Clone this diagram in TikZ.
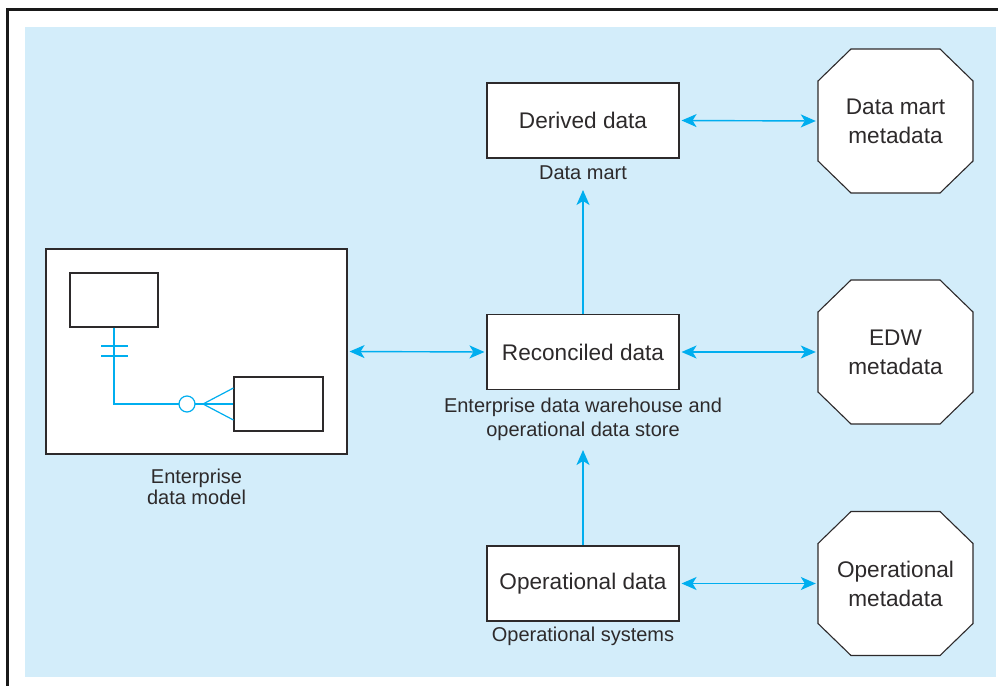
\documentclass[tikz,border=0pt]{standalone}
\usepackage{fontspec}
\setmainfont{Liberation Sans}
\usetikzlibrary{arrows.meta}
\definecolor{bgblue}{RGB}{211,237,250}
\definecolor{arrowcyan}{RGB}{0,174,239}
\definecolor{inkgray}{RGB}{45,42,43}
\tikzset{
  boxtext/.style={font=\fontsize{22.6}{29}\selectfont, text=inkgray, align=center},
  labeltext/.style={font=\fontsize{20}{24}\selectfont, text=inkgray, align=center},
  databox/.style={boxtext, draw=inkgray, line width=1.1pt, fill=white, rectangle,
    minimum width=192pt, minimum height=75pt, inner sep=0pt},
  metanode/.style={boxtext, rectangle, minimum width=155pt, minimum height=144pt, inner sep=0pt},
  octline/.style={draw=inkgray, line width=1.1pt, fill=white, line join=miter},
  erbox/.style={draw=inkgray, line width=1.1pt, fill=white, rectangle, inner sep=0pt},
  biarrow/.style={draw=arrowcyan, line width=1.4pt,
    {Stealth[length=15pt,width=13pt,inset=4pt]}-{Stealth[length=15pt,width=13pt,inset=4pt]}},
  uparrow/.style={draw=arrowcyan, line width=1.4pt,
    -{Stealth[length=15pt,width=13pt,inset=4pt]}},
  erline/.style={draw=arrowcyan, line width=1.2pt},
}
\begin{document}
\begin{tikzpicture}[x=1pt,y=-1pt]
\useasboundingbox (0,0) rectangle (998,685);
\clip (0,0) rectangle (998,685);
\fill[white] (0,0) rectangle (998,685);
% frame and background
\draw[line width=3pt, draw=black!90] (7.5,10) rectangle (1010,700);
\fill[bgblue] (25,27) rectangle (996,677);

% octagon outlines
\foreach \cy in {121,352,583.5}{
  \draw[octline] (851,\cy-72) -- (940,\cy-72) -- (973,\cy-40) -- (973,\cy+40)
    -- (940,\cy+72) -- (851,\cy+72) -- (818,\cy+40) -- (818,\cy-40) -- cycle;
}

% data boxes
\node[databox] (der) at (583,120.5) {Derived data};
\node[databox] (rec) at (583,352) {Reconciled data};
\node[databox] (ops) at (583,583.5) {Operational data};

% labels
\node[labeltext] (lblmart) at (583,173) {Data mart};
\node[labeltext] (lbledw) at (583,419) {Enterprise data warehouse and\\operational data store};
\node[labeltext] (lblops) at (583,636) {Operational systems};
\node[labeltext, font=\fontsize{20}{21}\selectfont] (lbledm) at (196.5,486.5) {Enterprise\\data model};

% metadata text
\node[metanode] (dmm) at (895.5,121) {Data mart\\metadata};
\node[metanode] (edwm) at (895.5,352) {EDW\\metadata};
\node[metanode] (opm) at (895.5,583.5) {Operational\\metadata};

% enterprise data model
\node[erbox, minimum width=301pt, minimum height=205pt] (edm) at (196.5,351.5) {};
\node[erbox, minimum width=88pt, minimum height=54pt] (ent1) at (114,300) {};
\node[erbox, minimum width=89pt, minimum height=54pt] (ent2) at (278.5,404) {};
\draw[erline] (ent1.south) |- (ent2.west);
\draw[erline] (101,346) -- (128,346);
\draw[erline] (101,356) -- (128,356);
\coordinate (crow) at (203,404);
\draw[erline] (crow) -- ([yshift=16pt]ent2.west);
\draw[erline] (crow) -- ([yshift=-16pt]ent2.west);
\node[draw=arrowcyan, line width=1.2pt, fill=white, circle, minimum size=16pt, inner sep=0pt] (optc) at (187,404) {};

% connectors
\draw[biarrow, shorten <=2pt, shorten >=2pt] (edm.east) -- (rec.west);
\draw[biarrow, shorten <=2pt, shorten >=2pt] (der.east) -- (dmm.west);
\draw[biarrow, shorten <=2pt, shorten >=2pt] (rec.east) -- (edwm.west);
\draw[biarrow, shorten <=2pt, shorten >=2pt] (ops.east) -- (opm.west);
\coordinate (martend) at (583,190);
\coordinate (edwend) at (583,450);
\draw[uparrow] (rec.north) -- (martend);
\draw[uparrow] (ops.north) -- (edwend);
\end{tikzpicture}
\end{document}
